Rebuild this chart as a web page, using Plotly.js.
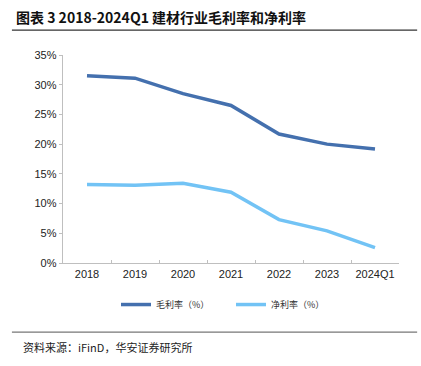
<!DOCTYPE html>
<html><head><meta charset="utf-8">
<script src="https://cdn.plot.ly/plotly-3.0.1.min.js"></script>
<style>html,body{margin:0;padding:0;background:#fff;}#c{width:421px;height:366px;}</style>
</head><body><div id="c"></div>
<script>
const categories = ["2018","2019","2020","2021","2022","2023","2024Q1"];
const grossMargin = [31.5, 31.1, 28.5, 26.5, 21.7, 20.0, 19.2];
const netMargin = [13.2, 13.1, 13.4, 11.9, 7.3, 5.4, 2.6];
const yTicks = [0,5,10,15,20,25,30,35];
const yTickLabels = yTicks.map(v => v + "%");

const cjk = '"Noto Sans CJK SC", "Liberation Sans", Arial, sans-serif';
const traces = [
  {x: categories, y: grossMargin, name: "毛利率（%）", type: "scatter", mode: "lines",
   line: {color: "#4470AE", width: 3.5}},
  {x: categories, y: netMargin, name: "净利率（%）", type: "scatter", mode: "lines",
   line: {color: "#72C3F5", width: 3.5}}
];
const layout = {
  width: 421, height: 366,
  margin: {l: 63, r: 22, t: 55, b: 103},
  paper_bgcolor: "#fff", plot_bgcolor: "#fff",
  showlegend: true,
  legend: {orientation: "h", x: 0.5, xanchor: "center", y: -0.13, yanchor: "top",
           entrywidth: 70, entrywidthmode: "pixels",
           font: {family: cjk, size: 9, color: "#333"}, tracegroupgap: 0},
  xaxis: {type: "category", range: [-0.5, 6.5], showgrid: false, showline: true, linecolor: "#BFBFBF", linewidth: 1.3,
          ticks: "inside", ticklen: 3, tickcolor: "#BFBFBF", tickson: "boundaries", tickangle: 0,
          tickfont: {family: '"Liberation Sans", Arial, sans-serif', size: 11, color: "#222"}, zeroline: false},
  yaxis: {range: [0, 35], tickvals: yTicks, ticktext: yTickLabels, showgrid: false, showline: true,
          linecolor: "#BFBFBF", linewidth: 1.3, ticks: "outside", ticklen: 3, tickcolor: "#BFBFBF",
          tickfont: {family: '"Liberation Sans", Arial, sans-serif', size: 11, color: "#222"}, zeroline: false},
  annotations: [
    {text: "<b>图表 3 2018-2024Q1 建材行业毛利率和净利率</b>", xref: "paper", yref: "paper",
     x: -0.145, y: 1.183, xanchor: "left", yanchor: "middle", showarrow: false,
     font: {family: cjk, size: 14, color: "#111"}},
    {text: "资料来源：iFinD，华安证券研究所", xref: "paper", yref: "paper",
     x: -0.125, y: -0.405, xanchor: "left", yanchor: "middle", showarrow: false,
     font: {family: cjk, size: 11, color: "#222"}}
  ],
  shapes: [
    {type: "line", xref: "paper", yref: "paper", x0: -0.152, x1: 1.054, y0: 1.12, y1: 1.12,
     line: {color: "#333", width: 1.3}},
    {type: "line", xref: "paper", yref: "paper", x0: -0.152, x1: 1.054, y0: -0.332, y1: -0.332,
     line: {color: "#777", width: 1.3}}
  ]
};
Plotly.newPlot("c", traces, layout, {displayModeBar: false, staticPlot: true});
</script></body></html>
